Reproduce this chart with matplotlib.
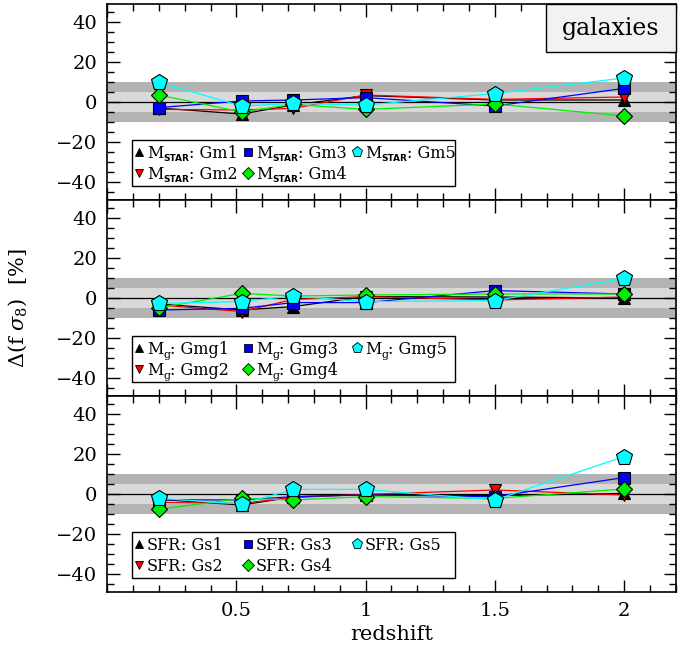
import numpy as np
import matplotlib.pyplot as plt
from matplotlib.patches import Rectangle
from matplotlib.ticker import MultipleLocator

plt.rc('font', family='DejaVu Serif')
plt.rc('mathtext', fontset='dejavuserif')
plt.rc('xtick', labelsize=14)
plt.rc('ytick', labelsize=14)

redshift = [0.2, 0.52, 0.72, 1.0, 1.5, 2.0]

# Delta(f sigma8) in percent, per panel
mstar = {
    'Gm1': [-3.0, -6.0, -1.5, 3.2, 1.0, 1.0],
    'Gm2': [-3.7, -4.0, -3.2, 3.5, 1.3, 2.5],
    'Gm3': [-2.8, 0.5, 1.0, 2.2, -2.0, 6.8],
    'Gm4': [3.5, -5.0, -1.2, -3.7, -1.0, -7.0],
    'Gm5': [9.8, -2.0, -0.7, -1.5, 4.2, 12.0],
}
mgas = {
    'Gmg1': [-3.0, -6.0, -4.3, 0.7, 0.5, 0.0],
    'Gmg2': [-3.5, -6.8, -0.7, 0.7, -1.0, 0.5],
    'Gmg3': [-6.0, -5.2, -2.3, -2.3, 3.7, 2.0],
    'Gmg4': [-5.0, 2.3, 1.0, 1.5, 2.0, 2.0],
    'Gmg5': [-2.7, -1.8, 1.0, -1.8, -1.3, 9.8],
}
sfr = {
    'Gs1': [-2.7, -5.5, -1.5, -0.2, -0.8, 0.3],
    'Gs2': [-4.2, -4.7, -1.8, -0.2, 2.0, -0.5],
    'Gs3': [-2.9, -3.0, -1.3, -0.5, -1.3, 8.2],
    'Gs4': [-7.7, -2.2, -3.0, -1.3, -2.2, 2.5],
    'Gs5': [-2.2, -5.0, 2.3, 2.3, -3.0, 18.7],
}
# label prefix: (main text, subscript)
panels = [(mstar, ('M', 'STAR')), (mgas, ('M', 'g')), (sfr, ('SFR', ''))]

colors  = ['black', 'red', 'blue', '#00ee00', 'cyan']
markers = ['^', 'v', 's', 'D', 'p']
msizes  = [8, 8, 8, 8, 12]
leg_ms  = [6, 6, 6, 6, 8]

# legend layout (axes fraction): column x of marker, row y (marker centre / text baseline)
leg_cols = [0.056, 0.248, 0.439]
leg_rows = [0.247, 0.136]
leg_base = [0.215, 0.106]

fig = plt.figure(figsize=(6.91, 6.55), dpi=100)
renderer = fig.canvas.get_renderer()
left, width = 0.155, 0.823
bottom, top = 0.0962, 0.9939
h = (top - bottom) / 3.


def put_label(ax, x, y, main, sub, name):
    # chain text pieces: main, small subscript, then ": name"
    off = 0.0
    parts = [(main, 11.5, {}, 0)]
    if sub:
        if sub == 'g':
            parts.append((sub, 8, {}, -3))
        else:
            parts.append((sub, 6.5, dict(weight='bold', family='DejaVu Sans'), -2))
    parts.append((': ' + name, 11.5, {}, 0))
    for s, size, kw, dy in parts:
        t = ax.annotate(s, (x, y), xycoords='axes fraction', xytext=(off, dy),
                        textcoords='offset points', fontsize=size, ha='left',
                        va='baseline', zorder=31, **kw)
        off += t.get_window_extent(renderer).width * 72. / fig.dpi


axs = []
for i, (data, (main, sub)) in enumerate(panels):
    ax = fig.add_axes([left, top - (i + 1) * h, width, h])
    axs.append(ax)
    ax.axhspan(-10, 10, color='#b3b3b3', lw=0, zorder=0)
    ax.axhspan(-5, 5, color='#d9d9d9', lw=0, zorder=0)
    ax.axhline(0, color='black', lw=0.9, zorder=1)

    ax.add_patch(Rectangle((0.043, 0.07), 0.569, 0.236, transform=ax.transAxes,
                           fc='white', ec='black', lw=1.0, zorder=30))
    for j, (name, vals) in enumerate(data.items()):
        ax.plot(redshift, vals, color=colors[j], lw=0.9, zorder=2 + j)
        ax.plot(redshift, vals, ls='none', marker=markers[j], ms=msizes[j],
                mfc=colors[j], mec='black', mew=0.8, zorder=10 + j)
        lx = leg_cols[j // 2]
        ax.plot([lx], [leg_rows[j % 2]], transform=ax.transAxes, ls='none',
                marker=markers[j], ms=leg_ms[j], mfc=colors[j], mec='black',
                mew=0.6, zorder=31)
        put_label(ax, lx + 0.014, leg_base[j % 2], main, sub, name)

    ax.set_xlim(0, 2.2)
    ax.set_ylim(-49, 49)
    ax.xaxis.set_major_locator(MultipleLocator(0.5))
    ax.xaxis.set_minor_locator(MultipleLocator(0.1))
    ax.yaxis.set_major_locator(MultipleLocator(20))
    ax.yaxis.set_minor_locator(MultipleLocator(5))
    ax.tick_params(which='both', direction='in', top=True, right=True)
    ax.tick_params(which='major', length=9, width=1, pad=7)
    ax.tick_params(which='minor', length=5, width=1)
    for s in ax.spines.values():
        s.set_linewidth(1.2)
    if i < 2:
        ax.set_xticklabels([])
    else:
        ax.set_xticks([0.5, 1, 1.5, 2])
        ax.set_xticklabels(['0.5', '1', '1.5', '2'])
        ax.set_xlabel('redshift', fontsize=15, labelpad=4)

# "galaxies" tag box in the top-right corner
axs[0].add_patch(Rectangle((0.7715, 0.755), 0.2285, 0.245, transform=axs[0].transAxes,
                           fc='#f2f2f2', ec='black', lw=1.0, zorder=20, clip_on=False))
axs[0].text(0.886, 0.877, 'galaxies', transform=axs[0].transAxes, fontsize=17,
            ha='center', va='center', zorder=21)
axs[1].set_ylabel(r'$\Delta$(f $\sigma_8$)  [%]', fontsize=15)
axs[1].yaxis.set_label_coords(-0.137, 0.45)

fig.savefig('out.png', dpi=100)
